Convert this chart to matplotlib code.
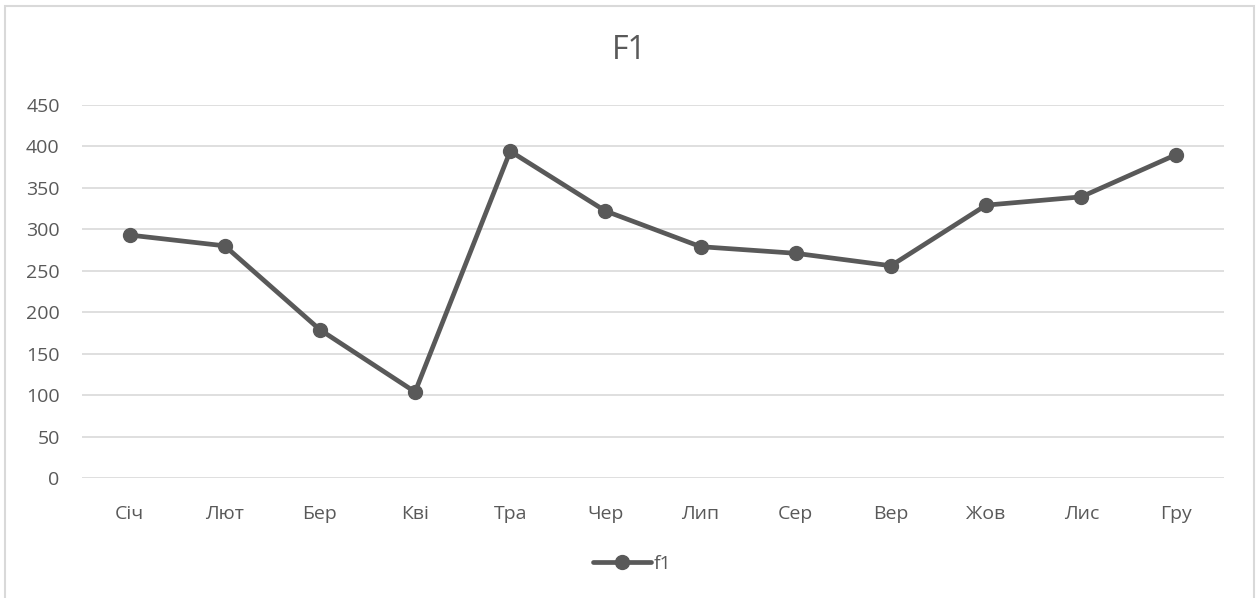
import matplotlib
matplotlib.use('Agg')
import matplotlib.pyplot as plt
from matplotlib import lines, patches

months = ['Січ', 'Лют', 'Бер', 'Кві', 'Тра', 'Чер', 'Лип', 'Сер', 'Вер', 'Жов', 'Лис', 'Гру']
f1 = [293, 280, 179, 104, 394, 322, 279, 271, 256, 329, 339, 390]
y_ticks = [0, 50, 100, 150, 200, 250, 300, 350, 400, 450]

text_col = '#595959'
grid_col = '#d9d9d9'
line_col = '#595959'

plt.rcParams['font.family'] = ['Open Sans', 'DejaVu Sans']

fig = plt.figure(figsize=(12.59, 5.98), dpi=100)
ax = fig.add_axes([0.0651, 0.2002, 0.9071, 0.6247])

x = list(range(len(months)))
ax.plot(x, f1, color=line_col, linewidth=3.4, marker='o', markersize=10,
        solid_capstyle='round', zorder=3)

ax.set_xlim(-0.5, len(months) - 0.5)
ax.set_ylim(0, 450)
ax.set_yticks(y_ticks)
ax.set_xticks(x)
ax.set_xticklabels(months)
ax.yaxis.grid(True, color=grid_col, linewidth=1.2)
ax.set_axisbelow(True)
for s in ax.spines.values():
    s.set_visible(False)
ax.tick_params(length=0, labelsize=14, labelcolor=text_col)
ax.tick_params(axis='x', pad=19)
ax.tick_params(axis='y', pad=16)

fig.text(0.5, 0.915, 'F1', ha='center', va='center', fontsize=23, color=text_col)

# legend entry under the plot
leg_line = lines.Line2D([], [], color=line_col, linewidth=3.4, marker='o', markersize=10,
                        solid_capstyle='round')
fig.legend(handles=[leg_line], labels=['f1'], loc='center', bbox_to_anchor=(0.502, 0.057),
           frameon=False, fontsize=14, labelcolor=text_col, handlelength=3.0, handletextpad=0.1)

# chart area frame
fig.patches.append(patches.Rectangle((5 / 1259, -0.05), 1249 / 1259, 1.05 - 6 / 598,
                                     transform=fig.transFigure, fill=False,
                                     edgecolor=grid_col, linewidth=1.5))

fig.savefig('out.png', dpi=100, facecolor='white')
